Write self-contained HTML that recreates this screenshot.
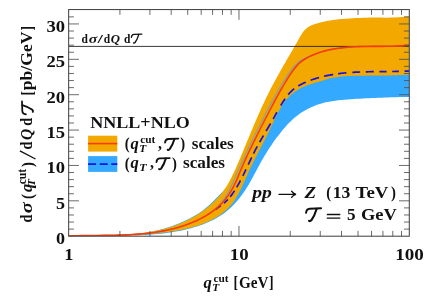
<!DOCTYPE html>
<html><head><meta charset="utf-8"><title>plot</title>
<style>html,body{margin:0;padding:0;background:#fff;}svg{will-change:transform;}body{width:424px;height:298px;overflow:hidden;position:relative;font-family:"Liberation Serif",serif;}</style></head>
<body>
<svg width="424" height="298" viewBox="0 0 424 298" style="position:absolute;left:0;top:0">
<defs><clipPath id="cp"><rect x="68.65" y="9.55" width="340.65" height="226.64999999999998"/></clipPath></defs>
<g clip-path="url(#cp)">
<path d="M69.00,237.00 L72.51,236.87 L76.02,236.76 L79.53,236.67 L83.05,236.61 L86.58,236.55 L90.11,236.50 L93.64,236.46 L97.17,236.41 L100.70,236.36 L104.23,236.29 L107.76,236.21 L111.29,236.10 L114.81,235.97 L118.33,235.81 L121.85,235.61 L125.37,235.37 L128.87,235.08 L132.38,234.74 L135.87,234.35 L139.36,233.89 L142.84,233.37 L146.31,232.78 L149.76,232.12 L153.21,231.39 L156.64,230.59 L160.05,229.71 L163.44,228.77 L166.81,227.75 L170.16,226.65 L173.49,225.48 L176.79,224.24 L180.07,222.92 L183.31,221.52 L186.52,220.04 L189.68,218.47 L192.79,216.80 L195.83,215.03 L198.81,213.16 L201.71,211.18 L204.52,209.08 L207.24,206.86 L209.87,204.52 L212.42,202.09 L214.92,199.59 L217.38,197.05 L219.83,194.50 L222.30,191.97 L224.77,189.46 L227.15,186.89 L229.34,184.18 L231.28,181.28 L232.99,178.21 L234.54,175.04 L235.97,171.81 L237.32,168.56 L238.65,165.30 L239.97,162.04 L241.29,158.77 L242.61,155.51 L243.93,152.24 L245.26,148.97 L246.59,145.71 L247.93,142.44 L249.27,139.18 L250.63,135.92 L251.99,132.66 L253.37,129.41 L254.75,126.17 L256.15,122.93 L257.57,119.70 L259.00,116.48 L260.44,113.26 L261.91,110.06 L263.39,106.86 L264.89,103.68 L266.42,100.50 L267.97,97.35 L269.54,94.20 L271.13,91.07 L272.76,87.95 L274.40,84.84 L276.07,81.75 L277.76,78.67 L279.46,75.59 L281.18,72.52 L282.91,69.46 L284.65,66.40 L286.40,63.34 L288.15,60.28 L289.91,57.22 L291.67,54.16 L293.43,51.09 L295.18,48.02 L296.92,44.94 L298.66,41.85 L300.39,38.75 L302.16,35.69 L304.12,32.80 L306.42,30.21 L309.15,28.06 L312.24,26.39 L315.55,25.11 L318.96,24.09 L322.40,23.20 L325.85,22.44 L329.32,21.78 L332.80,21.23 L336.28,20.76 L339.78,20.36 L343.28,20.03 L346.79,19.74 L350.30,19.49 L353.82,19.27 L357.33,19.07 L360.84,18.89 L364.36,18.75 L367.87,18.63 L371.39,18.56 L374.91,18.52 L378.43,18.54 L381.95,18.60 L385.47,18.68 L388.99,18.72 L392.51,18.66 L396.03,18.47 L399.55,18.19 L403.06,17.89 L406.58,17.64 L410.10,17.50 L409.10,97.00 L405.98,97.03 L402.87,97.06 L399.77,97.11 L396.68,97.17 L393.60,97.24 L390.52,97.32 L387.45,97.41 L384.37,97.52 L381.31,97.63 L378.24,97.75 L375.17,97.88 L372.10,98.02 L369.03,98.17 L365.96,98.32 L362.88,98.49 L359.80,98.66 L356.71,98.85 L353.61,99.04 L350.51,99.24 L347.40,99.46 L344.29,99.71 L341.18,100.00 L338.09,100.33 L335.00,100.73 L331.94,101.19 L328.89,101.73 L325.87,102.36 L322.89,103.08 L319.93,103.91 L317.01,104.86 L314.14,105.93 L311.31,107.13 L308.54,108.44 L305.83,109.88 L303.18,111.44 L300.60,113.11 L298.10,114.90 L295.68,116.81 L293.34,118.82 L291.08,120.92 L288.88,123.11 L286.75,125.36 L284.68,127.68 L282.66,130.05 L280.69,132.46 L278.77,134.89 L276.90,137.36 L275.06,139.85 L273.27,142.36 L271.52,144.90 L269.80,147.46 L268.13,150.05 L266.49,152.65 L264.89,155.28 L263.32,157.92 L261.78,160.59 L260.28,163.27 L258.80,165.96 L257.35,168.67 L255.92,171.39 L254.48,174.12 L253.03,176.84 L251.56,179.55 L250.04,182.25 L248.48,184.94 L246.86,187.60 L245.18,190.23 L243.43,192.81 L241.62,195.35 L239.74,197.83 L237.79,200.25 L235.77,202.60 L233.67,204.86 L231.49,207.03 L229.23,209.11 L226.89,211.08 L224.46,212.94 L221.96,214.70 L219.39,216.35 L216.75,217.92 L214.06,219.38 L211.31,220.76 L208.51,222.06 L205.66,223.27 L202.78,224.40 L199.86,225.45 L196.92,226.44 L193.96,227.35 L190.97,228.20 L187.98,228.99 L184.97,229.72 L181.96,230.40 L178.94,231.02 L175.91,231.58 L172.87,232.10 L169.83,232.57 L166.77,233.00 L163.71,233.38 L160.65,233.72 L157.58,234.03 L154.50,234.30 L151.42,234.53 L148.34,234.73 L145.25,234.91 L142.16,235.05 L139.06,235.17 L135.96,235.27 L132.86,235.35 L129.76,235.41 L126.66,235.46 L123.55,235.49 L120.45,235.51 L117.34,235.52 L114.24,235.52 L111.13,235.52 L108.03,235.52 L104.93,235.52 L101.83,235.51 L98.73,235.52 L95.64,235.53 L92.55,235.55 L89.46,235.58 L86.38,235.62 L83.30,235.68 L80.23,235.76 L77.16,235.86 L74.10,235.98 L71.05,236.13 L68.00,236.30 Z" fill="#33a9ff"/>
<path d="M68.00,236.00 L71.45,235.83 L74.92,235.69 L78.40,235.58 L81.91,235.49 L85.42,235.41 L88.95,235.35 L92.49,235.29 L96.04,235.24 L99.60,235.19 L103.17,235.13 L106.74,235.06 L110.31,234.98 L113.88,234.88 L117.45,234.76 L121.02,234.61 L124.58,234.43 L128.14,234.22 L131.69,233.96 L135.24,233.66 L138.77,233.31 L142.29,232.91 L145.79,232.45 L149.28,231.93 L152.75,231.34 L156.20,230.68 L159.64,229.95 L163.05,229.14 L166.43,228.24 L169.79,227.26 L173.12,226.18 L176.42,225.01 L179.69,223.73 L182.93,222.35 L186.13,220.87 L189.29,219.28 L192.40,217.59 L195.47,215.80 L198.48,213.91 L201.43,211.93 L204.32,209.85 L207.14,207.68 L209.89,205.41 L212.56,203.06 L215.13,200.60 L217.59,198.06 L219.93,195.42 L222.14,192.68 L224.21,189.85 L226.14,186.93 L227.96,183.94 L229.68,180.88 L231.30,177.76 L232.86,174.59 L234.35,171.39 L235.80,168.16 L237.23,164.92 L238.63,161.66 L240.02,158.41 L241.41,155.15 L242.78,151.88 L244.14,148.61 L245.51,145.34 L246.86,142.07 L248.22,138.81 L249.58,135.54 L250.94,132.27 L252.31,129.01 L253.68,125.75 L255.06,122.50 L256.46,119.26 L257.87,116.02 L259.29,112.79 L260.73,109.57 L262.19,106.35 L263.67,103.15 L265.17,99.97 L266.70,96.79 L268.25,93.63 L269.84,90.48 L271.45,87.35 L273.10,84.24 L274.77,81.13 L276.46,78.04 L278.18,74.96 L279.91,71.88 L281.65,68.81 L283.41,65.74 L285.18,62.68 L286.95,59.62 L288.73,56.55 L290.51,53.48 L292.28,50.41 L294.05,47.33 L295.81,44.24 L297.56,41.14 L299.30,38.03 L301.06,34.96 L303.00,32.04 L305.24,29.43 L307.90,27.25 L310.95,25.54 L314.26,24.21 L317.69,23.15 L321.14,22.23 L324.61,21.45 L328.09,20.78 L331.58,20.22 L335.09,19.76 L338.59,19.37 L342.11,19.04 L345.63,18.77 L349.15,18.53 L352.67,18.31 L356.19,18.12 L359.71,17.94 L363.23,17.79 L366.76,17.67 L370.28,17.59 L373.81,17.54 L377.34,17.53 L380.87,17.57 L384.40,17.63 L387.93,17.66 L391.46,17.62 L394.99,17.46 L398.52,17.22 L402.05,16.95 L405.57,16.70 L409.10,16.50 L409.10,74.50 L405.85,74.74 L402.61,74.94 L399.37,75.11 L396.13,75.24 L392.89,75.34 L389.65,75.41 L386.41,75.47 L383.17,75.51 L379.94,75.53 L376.70,75.55 L373.46,75.57 L370.22,75.59 L366.98,75.61 L363.74,75.64 L360.49,75.69 L357.25,75.75 L354.00,75.84 L350.74,75.95 L347.49,76.11 L344.25,76.33 L341.02,76.62 L337.80,77.01 L334.61,77.50 L331.44,78.12 L328.30,78.87 L325.19,79.76 L322.10,80.71 L319.00,81.67 L315.88,82.58 L312.76,83.46 L309.66,84.39 L306.60,85.44 L303.62,86.68 L300.73,88.11 L297.92,89.73 L295.21,91.53 L292.59,93.49 L290.11,95.61 L287.83,97.90 L285.72,100.34 L283.78,102.91 L281.98,105.59 L280.31,108.35 L278.73,111.17 L277.24,114.04 L275.80,116.94 L274.42,119.87 L273.05,122.81 L271.69,125.76 L270.32,128.70 L268.91,131.63 L267.48,134.55 L266.02,137.45 L264.55,140.35 L263.06,143.23 L261.56,146.11 L260.06,148.99 L258.57,151.86 L257.08,154.73 L255.60,157.60 L254.14,160.47 L252.71,163.36 L251.29,166.25 L249.91,169.17 L248.54,172.12 L247.21,175.10 L245.89,178.10 L244.56,181.11 L243.21,184.11 L241.83,187.09 L240.40,190.04 L238.91,192.94 L237.33,195.78 L235.66,198.54 L233.88,201.21 L231.97,203.78 L229.93,206.23 L227.72,208.54 L225.37,210.73 L222.89,212.79 L220.29,214.72 L217.59,216.53 L214.79,218.21 L211.92,219.78 L208.98,221.22 L206.00,222.55 L202.98,223.77 L199.93,224.88 L196.85,225.90 L193.75,226.82 L190.63,227.66 L187.49,228.43 L184.34,229.14 L181.17,229.79 L178.00,230.39 L174.81,230.95 L171.62,231.47 L168.42,231.95 L165.21,232.39 L162.00,232.79 L158.78,233.16 L155.56,233.50 L152.33,233.81 L149.09,234.08 L145.85,234.33 L142.61,234.55 L139.36,234.75 L136.11,234.92 L132.86,235.07 L129.60,235.21 L126.35,235.32 L123.09,235.42 L119.83,235.50 L116.57,235.57 L113.32,235.63 L110.06,235.68 L106.80,235.72 L103.55,235.76 L100.30,235.79 L97.05,235.82 L93.80,235.84 L90.56,235.87 L87.32,235.90 L84.09,235.93 L80.86,235.97 L77.64,236.01 L74.42,236.06 L71.21,236.13 L68.00,236.20 Z" fill="#f3a800"/>
<line x1="68.65" x2="409.3" y1="46.4" y2="46.4" stroke="#222" stroke-width="0.9"/>
<path d="M215.58,209.29 L216.44,208.70 L217.31,208.11 L218.16,207.51 L219.02,206.91 L219.86,206.30 L220.70,205.69 L220.87,205.56 M223.94,203.12 L224.57,202.58 L225.18,202.04 L225.79,201.48 L226.38,200.91 L226.96,200.33 L227.54,199.74 L227.82,199.44 M230.13,196.82 L230.90,195.86 L231.66,194.88 L232.40,193.88 L233.12,192.87 L233.83,191.85 L234.52,190.81 M236.72,187.27 L237.36,186.19 L237.98,185.11 L238.59,184.01 L239.20,182.92 L239.79,181.81 L240.38,180.71 L240.48,180.52 M242.85,175.88 L243.32,174.94 L243.78,174.00 L244.23,173.06 L244.69,172.12 L245.14,171.18 L245.59,170.24 L246.03,169.30 M248.25,164.58 L248.79,163.44 L249.32,162.31 L249.85,161.18 L250.39,160.05 L250.92,158.92 L251.46,157.79 L251.65,157.41 M253.47,153.67 L254.03,152.56 L254.60,151.45 L255.17,150.34 L255.75,149.23 L256.33,148.13 L256.92,147.03 L257.32,146.30 M259.64,142.13 L260.26,141.04 L260.88,139.96 L261.51,138.88 L262.13,137.81 L262.76,136.73 L263.40,135.66 L263.50,135.48 M266.15,131.01 L266.90,129.76 L267.64,128.50 L268.38,127.25 L269.12,126.00 L269.86,124.74 L270.60,123.49 M273.19,118.97 L273.81,117.89 L274.41,116.79 L275.02,115.70 L275.63,114.61 L276.23,113.51 L276.83,112.42 L276.93,112.23 M280.75,105.52 L281.39,104.45 L282.04,103.38 L282.71,102.32 L283.38,101.26 L284.07,100.21 L284.78,99.17 L285.14,98.66 M288.17,94.67 L288.97,93.72 L289.81,92.79 L290.66,91.89 L291.55,91.02 L292.45,90.18 L293.39,89.37 L294.20,88.72 M298.31,85.93 L299.40,85.31 L300.50,84.71 L301.61,84.14 L302.74,83.59 L303.88,83.05 L305.02,82.54 L305.78,82.21 M310.61,80.28 L311.97,79.78 L313.34,79.31 L314.71,78.85 L316.09,78.42 L317.48,78.00 L318.86,77.60 L319.06,77.54 M324.06,76.26 L325.46,75.94 L326.88,75.63 L328.29,75.34 L329.71,75.07 L331.13,74.80 L332.56,74.56 L333.17,74.46 M338.09,73.73 L339.33,73.57 L340.56,73.42 L341.80,73.27 L343.04,73.14 L344.28,73.01 L345.53,72.89 L346.36,72.82 M352.40,72.36 L353.65,72.29 L354.90,72.22 L356.16,72.15 L357.42,72.09 L358.67,72.04 L359.93,71.99 L360.14,71.98 M365.80,71.81 L367.06,71.78 L368.32,71.76 L369.59,71.74 L370.85,71.72 L372.11,71.70 L373.37,71.69 L373.79,71.68 M379.45,71.63 L380.50,71.62 L381.55,71.62 L382.60,71.61 L383.64,71.60 L384.69,71.60 L385.74,71.59 L386.57,71.58 M392.20,71.52 L393.24,71.51 L394.28,71.49 L395.32,71.47 L396.36,71.46 L397.39,71.43 L398.43,71.41 L398.84,71.40 M404.60,71.21 L405.22,71.19 L405.83,71.16 L406.45,71.13 L407.06,71.11 L407.67,71.08 L408.28,71.04 L408.90,71.01 L409.10,71.00" fill="none" stroke="#1a12e0" stroke-width="1.7"/>
<path d="M68.00,236.00 L71.33,235.89 L74.67,235.80 L78.02,235.72 L81.38,235.66 L84.74,235.61 L88.12,235.57 L91.50,235.54 L94.88,235.51 L98.28,235.47 L101.67,235.44 L105.07,235.40 L108.47,235.35 L111.87,235.29 L115.27,235.22 L118.67,235.13 L122.07,235.01 L125.46,234.88 L128.86,234.72 L132.24,234.53 L135.63,234.31 L139.01,234.05 L142.38,233.76 L145.74,233.42 L149.10,233.05 L152.44,232.62 L155.78,232.15 L159.10,231.63 L162.42,231.05 L165.72,230.41 L169.00,229.72 L172.27,228.95 L175.53,228.13 L178.77,227.23 L181.99,226.26 L185.20,225.22 L188.37,224.09 L191.52,222.87 L194.63,221.55 L197.70,220.13 L200.72,218.60 L203.69,216.96 L206.61,215.19 L209.45,213.29 L212.20,211.27 L214.83,209.12 L217.32,206.83 L219.65,204.41 L221.80,201.87 L223.80,199.20 L225.65,196.44 L227.39,193.58 L229.02,190.65 L230.55,187.65 L232.02,184.60 L233.44,181.51 L234.81,178.40 L236.17,175.27 L237.52,172.14 L238.88,169.03 L240.26,165.93 L241.65,162.84 L243.05,159.76 L244.47,156.69 L245.90,153.64 L247.34,150.59 L248.79,147.55 L250.25,144.51 L251.72,141.48 L253.20,138.46 L254.69,135.44 L256.18,132.43 L257.69,129.42 L259.20,126.41 L260.72,123.40 L262.25,120.39 L263.79,117.38 L265.33,114.38 L266.88,111.37 L268.44,108.37 L270.01,105.37 L271.60,102.38 L273.21,99.39 L274.84,96.42 L276.49,93.46 L278.16,90.52 L279.85,87.59 L281.58,84.68 L283.34,81.79 L285.12,78.92 L286.94,76.08 L288.80,73.26 L290.73,70.50 L292.77,67.85 L294.97,65.35 L297.38,63.07 L300.03,61.03 L302.90,59.24 L305.93,57.64 L309.05,56.22 L312.21,54.93 L315.40,53.75 L318.61,52.69 L321.84,51.74 L325.09,50.90 L328.36,50.14 L331.65,49.48 L334.95,48.90 L338.27,48.41 L341.60,47.98 L344.95,47.62 L348.31,47.31 L351.68,47.07 L355.05,46.87 L358.43,46.71 L361.82,46.59 L365.22,46.49 L368.61,46.42 L372.01,46.37 L375.41,46.33 L378.80,46.30 L382.20,46.27 L385.59,46.22 L388.97,46.17 L392.35,46.10 L395.72,46.00 L399.08,45.88 L402.43,45.71 L405.77,45.51 L409.10,45.25" fill="none" stroke="#7fa3ad" stroke-width="1.1"/>
<path d="M68.00,236.00 L71.33,235.88 L74.66,235.78 L78.01,235.70 L81.36,235.63 L84.73,235.58 L88.10,235.54 L91.47,235.51 L94.86,235.48 L98.24,235.45 L101.63,235.42 L105.03,235.38 L108.42,235.33 L111.82,235.28 L115.22,235.21 L118.61,235.12 L122.01,235.02 L125.40,234.89 L128.79,234.73 L132.18,234.55 L135.56,234.33 L138.93,234.08 L142.30,233.79 L145.66,233.46 L149.02,233.09 L152.36,232.67 L155.69,232.20 L159.01,231.67 L162.32,231.09 L165.62,230.46 L168.90,229.76 L172.17,228.99 L175.42,228.16 L178.66,227.26 L181.88,226.28 L185.08,225.22 L188.25,224.09 L191.40,222.87 L194.51,221.56 L197.58,220.16 L200.61,218.66 L203.60,217.06 L206.53,215.36 L209.41,213.55 L212.20,211.63 L214.91,209.59 L217.51,207.44 L219.99,205.16 L222.34,202.75 L224.55,200.23 L226.64,197.59 L228.60,194.86 L230.43,192.04 L232.15,189.14 L233.75,186.17 L235.23,183.14 L236.62,180.05 L237.93,176.94 L239.22,173.81 L240.51,170.68 L241.83,167.57 L243.18,164.47 L244.54,161.38 L245.93,158.31 L247.34,155.24 L248.77,152.19 L250.22,149.14 L251.68,146.11 L253.16,143.08 L254.65,140.05 L256.15,137.04 L257.66,134.02 L259.18,131.01 L260.71,128.01 L262.24,125.00 L263.77,122.00 L265.31,119.00 L266.85,116.00 L268.39,113.00 L269.94,110.00 L271.50,107.01 L273.07,104.02 L274.65,101.04 L276.25,98.07 L277.87,95.11 L279.52,92.16 L281.19,89.23 L282.89,86.31 L284.62,83.40 L286.39,80.51 L288.19,77.65 L290.04,74.80 L291.93,71.99 L293.91,69.25 L296.02,66.63 L298.29,64.19 L300.76,61.97 L303.44,59.99 L306.29,58.22 L309.26,56.65 L312.32,55.22 L315.43,53.94 L318.59,52.79 L321.81,51.77 L325.06,50.87 L328.35,50.07 L331.68,49.38 L335.02,48.78 L338.39,48.27 L341.77,47.85 L345.16,47.49 L348.55,47.20 L351.93,46.97 L355.31,46.80 L358.67,46.66 L362.03,46.56 L365.38,46.49 L368.72,46.45 L372.06,46.42 L375.40,46.40 L378.74,46.38 L382.09,46.35 L385.45,46.32 L388.81,46.26 L392.19,46.18 L395.58,46.07 L398.98,45.92 L402.37,45.74 L405.74,45.51 L409.10,45.25" fill="none" stroke="#ff3a00" stroke-width="1.6"/>
</g>
<path d="M68.65,229.12H73.95 M409.30,229.12H404.00 M68.65,222.05H73.95 M409.30,222.05H404.00 M68.65,214.97H73.95 M409.30,214.97H404.00 M68.65,207.90H73.95 M409.30,207.90H404.00 M68.65,200.82H78.95 M409.30,200.82H399.00 M68.65,193.75H73.95 M409.30,193.75H404.00 M68.65,186.67H73.95 M409.30,186.67H404.00 M68.65,179.60H73.95 M409.30,179.60H404.00 M68.65,172.52H73.95 M409.30,172.52H404.00 M68.65,165.45H78.95 M409.30,165.45H399.00 M68.65,158.38H73.95 M409.30,158.38H404.00 M68.65,151.30H73.95 M409.30,151.30H404.00 M68.65,144.22H73.95 M409.30,144.22H404.00 M68.65,137.15H73.95 M409.30,137.15H404.00 M68.65,130.07H78.95 M409.30,130.07H399.00 M68.65,123.00H73.95 M409.30,123.00H404.00 M68.65,115.92H73.95 M409.30,115.92H404.00 M68.65,108.85H73.95 M409.30,108.85H404.00 M68.65,101.77H73.95 M409.30,101.77H404.00 M68.65,94.70H78.95 M409.30,94.70H399.00 M68.65,87.62H73.95 M409.30,87.62H404.00 M68.65,80.55H73.95 M409.30,80.55H404.00 M68.65,73.47H73.95 M409.30,73.47H404.00 M68.65,66.40H73.95 M409.30,66.40H404.00 M68.65,59.32H78.95 M409.30,59.32H399.00 M68.65,52.25H73.95 M409.30,52.25H404.00 M68.65,45.17H73.95 M409.30,45.17H404.00 M68.65,38.10H73.95 M409.30,38.10H404.00 M68.65,31.02H73.95 M409.30,31.02H404.00 M68.65,23.95H78.95 M409.30,23.95H399.00 M68.65,16.87H73.95 M409.30,16.87H404.00 M119.92,236.20V230.90 M119.92,9.55V14.85 M149.92,236.20V230.90 M149.92,9.55V14.85 M171.20,236.20V230.90 M171.20,9.55V14.85 M187.70,236.20V230.90 M187.70,9.55V14.85 M201.19,236.20V230.90 M201.19,9.55V14.85 M212.59,236.20V230.90 M212.59,9.55V14.85 M222.47,236.20V230.90 M222.47,9.55V14.85 M231.18,236.20V230.90 M231.18,9.55V14.85 M238.97,236.20V225.90 M238.97,9.55V19.85 M290.25,236.20V230.90 M290.25,9.55V14.85 M320.24,236.20V230.90 M320.24,9.55V14.85 M341.52,236.20V230.90 M341.52,9.55V14.85 M358.03,236.20V230.90 M358.03,9.55V14.85 M371.51,236.20V230.90 M371.51,9.55V14.85 M382.92,236.20V230.90 M382.92,9.55V14.85 M392.79,236.20V230.90 M392.79,9.55V14.85 M401.51,236.20V230.90 M401.51,9.55V14.85" fill="none" stroke="#505050" stroke-width="0.85"/>
<rect x="68.65" y="9.55" width="340.65" height="226.64999999999998" fill="none" stroke="#464646" stroke-width="1.05"/>
<rect x="88.1" y="135.7" width="29.2" height="15.9" fill="#f3a800"/>
<line x1="88.1" x2="117.3" y1="143.6" y2="143.6" stroke="#ff3a00" stroke-width="1.6"/>
<rect x="88.1" y="156.1" width="29.2" height="15.8" fill="#33a9ff"/>
<line x1="88.1" x2="117.3" y1="164.2" y2="164.2" stroke="#1a12e0" stroke-width="1.7" stroke-dasharray="8 3.6"/>
<text x="56.05" y="244.10" font-family="Liberation Serif" font-weight="bold" font-size="16.4" fill="#111" textLength="9.05" lengthAdjust="spacingAndGlyphs">0</text>
<text x="56.05" y="208.72" font-family="Liberation Serif" font-weight="bold" font-size="16.4" fill="#111" textLength="9.05" lengthAdjust="spacingAndGlyphs">5</text>
<text x="46.50" y="173.35" font-family="Liberation Serif" font-weight="bold" font-size="16.4" fill="#111" textLength="18.60" lengthAdjust="spacingAndGlyphs">10</text>
<text x="46.50" y="137.97" font-family="Liberation Serif" font-weight="bold" font-size="16.4" fill="#111" textLength="18.60" lengthAdjust="spacingAndGlyphs">15</text>
<text x="46.50" y="102.60" font-family="Liberation Serif" font-weight="bold" font-size="16.4" fill="#111" textLength="18.60" lengthAdjust="spacingAndGlyphs">20</text>
<text x="46.50" y="67.22" font-family="Liberation Serif" font-weight="bold" font-size="16.4" fill="#111" textLength="18.60" lengthAdjust="spacingAndGlyphs">25</text>
<text x="46.50" y="31.85" font-family="Liberation Serif" font-weight="bold" font-size="16.4" fill="#111" textLength="18.60" lengthAdjust="spacingAndGlyphs">30</text>
<text x="64.25" y="260.00" font-family="Liberation Serif" font-weight="bold" font-size="16.4" fill="#111" textLength="9.20" lengthAdjust="spacingAndGlyphs">1</text>
<text x="229.72" y="260.00" font-family="Liberation Serif" font-weight="bold" font-size="16.4" fill="#111" textLength="18.90" lengthAdjust="spacingAndGlyphs">10</text>
<text x="395.20" y="260.00" font-family="Liberation Serif" font-weight="bold" font-size="16.4" fill="#111" textLength="28.60" lengthAdjust="spacingAndGlyphs">100</text>
<text x="90.30" y="127.90" font-family="Liberation Serif" font-weight="bold" font-size="15.8" fill="#111" textLength="99.40" lengthAdjust="spacingAndGlyphs">NNLL+NLO</text>
<text x="124.70" y="149.30" font-family="Liberation Serif" font-weight="bold" font-size="16.9" fill="#111" textLength="4.90" lengthAdjust="spacingAndGlyphs">(</text>
<text x="130.40" y="148.90" font-family="Liberation Serif" font-weight="bold" font-size="15.8" fill="#111" font-style="italic" textLength="8.30" lengthAdjust="spacingAndGlyphs">q</text>
<text x="139.20" y="152.10" font-family="Liberation Serif" font-weight="bold" font-size="11" fill="#111" font-style="italic" textLength="7.00" lengthAdjust="spacingAndGlyphs">T</text>
<text x="140.20" y="142.90" font-family="Liberation Serif" font-weight="bold" font-size="11" fill="#111" textLength="15.20" lengthAdjust="spacingAndGlyphs">cut</text>
<text x="157.90" y="148.90" font-family="Liberation Serif" font-weight="bold" font-size="15.8" fill="#111">,</text>
<g transform="translate(164.60,149.20) scale(0.88)"><g fill="none" stroke="#111" stroke-linecap="round" stroke-linejoin="round"><path d="M0.5,-7.4 C0.8,-10.2 2.1,-11.5 4.2,-11.6 L15.6,-12.0" stroke-width="2.03"/><path d="M11.2,-11.6 C10,-7.5 8,-3 5.8,0.0 C5.1,0.8 4.2,0.9 3.5,0.6" stroke-width="2.24"/></g></g>
<text x="180.20" y="149.30" font-family="Liberation Serif" font-weight="bold" font-size="16.9" fill="#111" textLength="4.90" lengthAdjust="spacingAndGlyphs">)</text>
<text x="191.80" y="148.90" font-family="Liberation Serif" font-weight="bold" font-size="15.8" fill="#111" textLength="42.00" lengthAdjust="spacingAndGlyphs">scales</text>
<text x="124.70" y="168.70" font-family="Liberation Serif" font-weight="bold" font-size="16.9" fill="#111" textLength="4.90" lengthAdjust="spacingAndGlyphs">(</text>
<text x="130.40" y="168.30" font-family="Liberation Serif" font-weight="bold" font-size="15.8" fill="#111" font-style="italic" textLength="8.30" lengthAdjust="spacingAndGlyphs">q</text>
<text x="139.20" y="170.90" font-family="Liberation Serif" font-weight="bold" font-size="11" fill="#111" font-style="italic" textLength="7.40" lengthAdjust="spacingAndGlyphs">T</text>
<text x="149.90" y="168.30" font-family="Liberation Serif" font-weight="bold" font-size="15.8" fill="#111">,</text>
<g transform="translate(156.00,168.60) scale(0.88)"><g fill="none" stroke="#111" stroke-linecap="round" stroke-linejoin="round"><path d="M0.5,-7.4 C0.8,-10.2 2.1,-11.5 4.2,-11.6 L15.6,-12.0" stroke-width="2.03"/><path d="M11.2,-11.6 C10,-7.5 8,-3 5.8,0.0 C5.1,0.8 4.2,0.9 3.5,0.6" stroke-width="2.24"/></g></g>
<text x="171.90" y="168.70" font-family="Liberation Serif" font-weight="bold" font-size="16.9" fill="#111" textLength="4.90" lengthAdjust="spacingAndGlyphs">)</text>
<text x="183.00" y="168.30" font-family="Liberation Serif" font-weight="bold" font-size="15.8" fill="#111" textLength="42.00" lengthAdjust="spacingAndGlyphs">scales</text>
<text x="252.20" y="197.80" font-family="Liberation Serif" font-weight="bold" font-size="15.8" fill="#111" font-style="italic" textLength="19.60" lengthAdjust="spacingAndGlyphs">pp</text>
<path d="M279,194.3 H295.6 M291.6,191.2 C292.6,192.9 294,193.9 296,194.3 C294,194.7 292.6,195.7 291.6,197.4" fill="none" stroke="#111" stroke-width="1.3" stroke-linecap="round"/>
<text x="304.60" y="197.80" font-family="Liberation Serif" font-weight="bold" font-size="15.8" fill="#111" font-style="italic" textLength="11.60" lengthAdjust="spacingAndGlyphs">Z</text>
<text x="326.20" y="198.20" font-family="Liberation Serif" font-weight="bold" font-size="16.9" fill="#111" textLength="4.90" lengthAdjust="spacingAndGlyphs">(</text>
<text x="332.70" y="197.80" font-family="Liberation Serif" font-weight="bold" font-size="15.8" fill="#111" textLength="17.60" lengthAdjust="spacingAndGlyphs">13</text>
<text x="355.60" y="197.80" font-family="Liberation Serif" font-weight="bold" font-size="15.8" fill="#111" textLength="32.80" lengthAdjust="spacingAndGlyphs">TeV</text>
<text x="390.90" y="198.20" font-family="Liberation Serif" font-weight="bold" font-size="16.9" fill="#111" textLength="4.90" lengthAdjust="spacingAndGlyphs">)</text>
<g transform="translate(305.50,220.30) scale(1.0)"><g fill="none" stroke="#111" stroke-linecap="round" stroke-linejoin="round"><path d="M0.5,-7.4 C0.8,-10.2 2.1,-11.5 4.2,-11.6 L15.6,-12.0" stroke-width="1.90"/><path d="M11.2,-11.6 C10,-7.5 8,-3 5.8,0.0 C5.1,0.8 4.2,0.9 3.5,0.6" stroke-width="2.10"/></g></g>
<path d="M326.8,214.5H340.3M326.8,218.2H340.3" stroke="#111" stroke-width="1.3" fill="none"/>
<text x="346.90" y="220.30" font-family="Liberation Serif" font-weight="bold" font-size="15.8" fill="#111" textLength="8.60" lengthAdjust="spacingAndGlyphs">5</text>
<text x="361.00" y="220.30" font-family="Liberation Serif" font-weight="bold" font-size="15.8" fill="#111" textLength="35.90" lengthAdjust="spacingAndGlyphs">GeV</text>
<text x="203.40" y="287.60" font-family="Liberation Serif" font-weight="bold" font-size="15.8" fill="#111" font-style="italic" textLength="8.30" lengthAdjust="spacingAndGlyphs">q</text>
<text x="212.20" y="290.80" font-family="Liberation Serif" font-weight="bold" font-size="11" fill="#111" font-style="italic" textLength="7.00" lengthAdjust="spacingAndGlyphs">T</text>
<text x="213.40" y="281.60" font-family="Liberation Serif" font-weight="bold" font-size="11" fill="#111" textLength="15.20" lengthAdjust="spacingAndGlyphs">cut</text>
<text x="233.60" y="288.00" font-family="Liberation Serif" font-weight="bold" font-size="16.9" fill="#111" textLength="4.60" lengthAdjust="spacingAndGlyphs">[</text>
<text x="238.90" y="287.60" font-family="Liberation Serif" font-weight="bold" font-size="15.8" fill="#111" textLength="29.60" lengthAdjust="spacingAndGlyphs">GeV</text>
<text x="269.00" y="288.00" font-family="Liberation Serif" font-weight="bold" font-size="16.9" fill="#111" textLength="4.60" lengthAdjust="spacingAndGlyphs">]</text>
<text x="81.50" y="42.50" font-family="Liberation Serif" font-weight="bold" font-size="11.8" fill="#111" textLength="6.40" lengthAdjust="spacingAndGlyphs">d</text>
<text x="88.70" y="42.50" font-family="Liberation Serif" font-weight="bold" font-size="11.8" fill="#111" font-style="italic" textLength="8.50" lengthAdjust="spacingAndGlyphs">σ</text>
<text x="97.60" y="42.50" font-family="Liberation Serif" font-weight="bold" font-size="11.8" fill="#111" textLength="5.40" lengthAdjust="spacingAndGlyphs">/</text>
<text x="103.80" y="42.50" font-family="Liberation Serif" font-weight="bold" font-size="11.8" fill="#111" textLength="6.40" lengthAdjust="spacingAndGlyphs">d</text>
<text x="110.80" y="42.50" font-family="Liberation Serif" font-weight="bold" font-size="11.8" fill="#111" font-style="italic" textLength="9.20" lengthAdjust="spacingAndGlyphs">Q</text>
<text x="124.00" y="42.50" font-family="Liberation Serif" font-weight="bold" font-size="11.8" fill="#111" textLength="6.40" lengthAdjust="spacingAndGlyphs">d</text>
<g transform="translate(131.00,42.50) scale(0.7)"><g fill="none" stroke="#111" stroke-linecap="round" stroke-linejoin="round"><path d="M0.5,-7.4 C0.8,-10.2 2.1,-11.5 4.2,-11.6 L15.6,-12.0" stroke-width="1.77"/><path d="M11.2,-11.6 C10,-7.5 8,-3 5.8,0.0 C5.1,0.8 4.2,0.9 3.5,0.6" stroke-width="1.96"/></g></g>
<g transform="translate(32.3,222.6) rotate(-90)"><text x="0.20" y="0.00" font-family="Liberation Serif" font-weight="bold" font-size="15.8" fill="#111" textLength="7.90" lengthAdjust="spacingAndGlyphs">d</text><text x="9.30" y="0.00" font-family="Liberation Serif" font-weight="bold" font-size="16.6" fill="#111" font-style="italic" textLength="11.00" lengthAdjust="spacingAndGlyphs">σ</text><text x="23.60" y="0.40" font-family="Liberation Serif" font-weight="bold" font-size="16.9" fill="#111" textLength="4.90" lengthAdjust="spacingAndGlyphs">(</text><text x="30.70" y="0.00" font-family="Liberation Serif" font-weight="bold" font-size="15.8" fill="#111" font-style="italic" textLength="8.30" lengthAdjust="spacingAndGlyphs">q</text><text x="36.40" y="2.50" font-family="Liberation Serif" font-weight="bold" font-size="11" fill="#111" font-style="italic" textLength="7.20" lengthAdjust="spacingAndGlyphs">T</text><text x="38.30" y="-6.50" font-family="Liberation Serif" font-weight="bold" font-size="11.5" fill="#111" textLength="15.50" lengthAdjust="spacingAndGlyphs">cut</text><text x="55.60" y="0.40" font-family="Liberation Serif" font-weight="bold" font-size="16.9" fill="#111" textLength="4.90" lengthAdjust="spacingAndGlyphs">)</text><path d="M63.6,3.2 L71.8,-12.4" stroke="#111" stroke-width="1.35" fill="none"/><text x="73.00" y="0.00" font-family="Liberation Serif" font-weight="bold" font-size="15.8" fill="#111" textLength="7.90" lengthAdjust="spacingAndGlyphs">d</text><text x="82.60" y="0.00" font-family="Liberation Serif" font-weight="bold" font-size="15.8" fill="#111" font-style="italic" textLength="11.20" lengthAdjust="spacingAndGlyphs">Q</text><text x="96.90" y="0.00" font-family="Liberation Serif" font-weight="bold" font-size="15.8" fill="#111" textLength="7.90" lengthAdjust="spacingAndGlyphs">d</text><g transform="translate(107.80,0.00) scale(0.86)"><g fill="none" stroke="#111" stroke-linecap="round" stroke-linejoin="round"><path d="M0.5,-7.4 C0.8,-10.2 2.1,-11.5 4.2,-11.6 L15.6,-12.0" stroke-width="2.05"/><path d="M11.2,-11.6 C10,-7.5 8,-3 5.8,0.0 C5.1,0.8 4.2,0.9 3.5,0.6" stroke-width="2.26"/></g></g><text x="127.00" y="0.40" font-family="Liberation Serif" font-weight="bold" font-size="16.9" fill="#111" textLength="4.60" lengthAdjust="spacingAndGlyphs">[</text><text x="132.40" y="0.00" font-family="Liberation Serif" font-weight="bold" font-size="15.8" fill="#111" textLength="58.60" lengthAdjust="spacingAndGlyphs">pb/GeV</text><text x="192.20" y="0.40" font-family="Liberation Serif" font-weight="bold" font-size="16.9" fill="#111" textLength="4.60" lengthAdjust="spacingAndGlyphs">]</text></g>
</svg>
</body></html>
